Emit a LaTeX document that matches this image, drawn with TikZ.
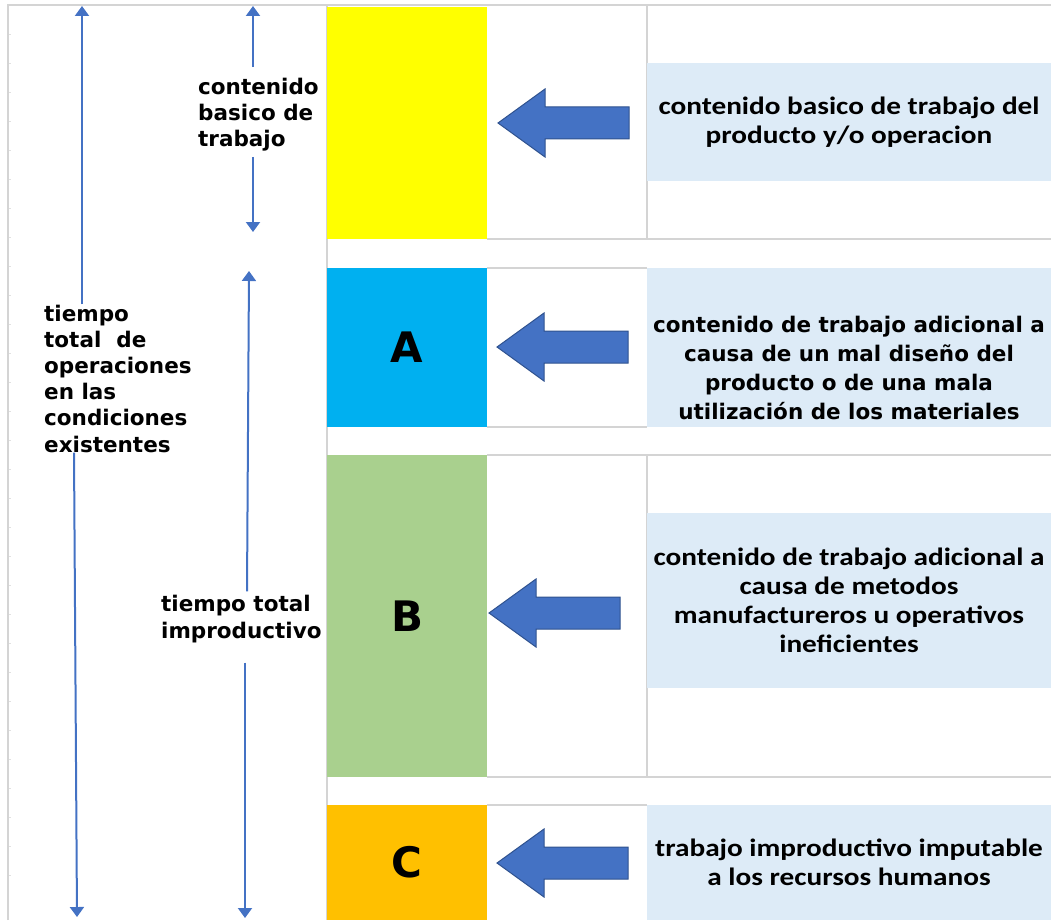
\documentclass[tikz,border=0pt]{standalone}
\usepackage{xcolor}
\usepackage{fontspec}
\usepackage{tikz}
\usetikzlibrary{calc, positioning, arrows.meta}
\newfontfamily\cellfont[FakeStretch=1.17]{Carlito}
\newfontfamily\sidefont{DejaVu Sans}
\definecolor{gridgray}{HTML}{D4D4D4}
\definecolor{dimblue}{HTML}{4472C4}
\definecolor{arrowedge}{HTML}{2F528F}
\definecolor{cellblue}{HTML}{DDEBF7}
\definecolor{basicyellow}{HTML}{FFFF00}
\definecolor{barcyan}{HTML}{00B0F0}
\definecolor{bargreen}{HTML}{A9D08E}
\definecolor{barorange}{HTML}{FFC000}
\tikzset{
	gridline/.style={
		draw=gridgray,
		line width=2pt
	},
	dimline/.style={
		draw=dimblue,
		line width=2pt,
		-{Triangle[width=14pt,length=10pt]}
	},
	sidelabel/.style={
		inner sep=0pt,
		align=left,
		anchor=base west,
		font=\sidefont\bfseries\fontsize{21.5}{26.2}\selectfont
	},
	bar/.style={
		inner sep=0pt,
		minimum width=160pt,
		font=\sidefont\bfseries\fontsize{42}{50}\selectfont
	},
	infobox/.style={
		fill=cellblue,
		inner sep=0pt,
		minimum width=404pt
	},
	infotext/.style={
		inner sep=0pt,
		align=center,
		font=\cellfont\bfseries\fontsize{25}{29.2}\selectfont
	},
	blockarrow/.pic={
		\filldraw[fill=dimblue, draw=arrowedge, line width=1pt]
			(0,0) -- (47,-34) -- (47,-16) -- (131,-16) -- (131,16) -- (47,16) -- (47,34) -- cycle;
	}
}

\begin{document}
\begin{tikzpicture}[x=1pt, y=-1pt]
\useasboundingbox (0,0) rectangle (1051,920);

\draw[gridline] (8,920) -- (8,5) -- (1051,5);
\draw[gridline] (327,5) -- (327,920);
\foreach \ty in {34,63,...,900}
	\draw[gridgray!70, line width=0.8pt] (9,\ty) -- (10.5,\ty);
\draw[gridline] (487,239) -- (1051,239);
\draw[gridline] (487,268) -- (647,268);
\draw[gridline] (487,427) -- (647,427);
\draw[gridline] (487,455) -- (1051,455);
\draw[gridline] (487,777) -- (1051,777);
\draw[gridline] (487,805) -- (647,805);
\draw[gridline] (647,5) -- (647,239);
\draw[gridline] (647,455) -- (647,777);

\node[bar, fill=basicyellow, minimum height=232pt] (barbasic) at (407,123) {};
\node[bar, fill=barcyan, minimum height=159pt] (barA) at (407,347.5) {A};
\node[bar, fill=bargreen, minimum height=322pt] (barB) at (407,616) {B};
\node[bar, fill=barorange, minimum height=115pt] (barC) at (407,862.5) {C};

\node[infobox, minimum height=118pt] (boxbasic) at (849,122) {};
\node[infobox, minimum height=159pt] (boxA) at (849,347.5) {};
\node[infobox, minimum height=175pt] (boxB) at (849,600.5) {};
\node[infobox, minimum height=115pt] (boxC) at (849,862.5) {};

\node[infotext] (txtbasic) at (boxbasic) {contenido basico de trabajo del\\producto y/o operacion};
\node[infotext, font=\sidefont\bfseries\fontsize{21.5}{29}\selectfont] (txtA) at (849,368)
	{contenido de trabajo adicional a\\causa de un mal diseño del\\producto o de una mala\\utilización de los materiales};
\node[infotext] (txtB) at (boxB) {contenido de trabajo adicional a\\causa de metodos\\manufactureros u operativos\\ineficientes};
\node[infotext] (txtC) at (boxC) {trabajo improductivo imputable\\a los recursos humanos};

\pic (arrbasic) at (498,123) {blockarrow};
\pic (arrA) at (497,347) {blockarrow};
\pic (arrB) at (489,613) {blockarrow};
\pic (arrC) at (497,863) {blockarrow};

\node[sidelabel] (totlbl) at (44,452) {tiempo\\total~ de\\operaciones\\en las\\condiciones\\existentes};
\node[sidelabel] (baslbl) at (198,147) {contenido\\basico de\\trabajo};
\node[sidelabel] (improlbl) at (161,638) {tiempo total\\improductivo};

\coordinate (tot-up) at (82,6);
\coordinate (tot-dn) at (77,917);
\coordinate (bas-up) at (253,6);
\coordinate (bas-dn) at (253,232);
\coordinate (impro-up) at (249,271);
\coordinate (impro-dn) at (245,918);

\draw[dimline] (totlbl.north -| tot-up) -- (tot-up);
\draw[dimline] ([xshift=30pt]totlbl.south west) -- (tot-dn);
\draw[dimline] ([yshift=11pt]baslbl.north -| bas-up) -- (bas-up);
\draw[dimline] ([yshift=-5pt]baslbl.south -| bas-dn) -- (bas-dn);
\draw[dimline] ([xshift=86pt,yshift=4pt]improlbl.north west) -- (impro-up);
\draw[dimline] ([xshift=84pt,yshift=-20pt]improlbl.south west) -- (impro-dn);
\end{tikzpicture}
\end{document}
